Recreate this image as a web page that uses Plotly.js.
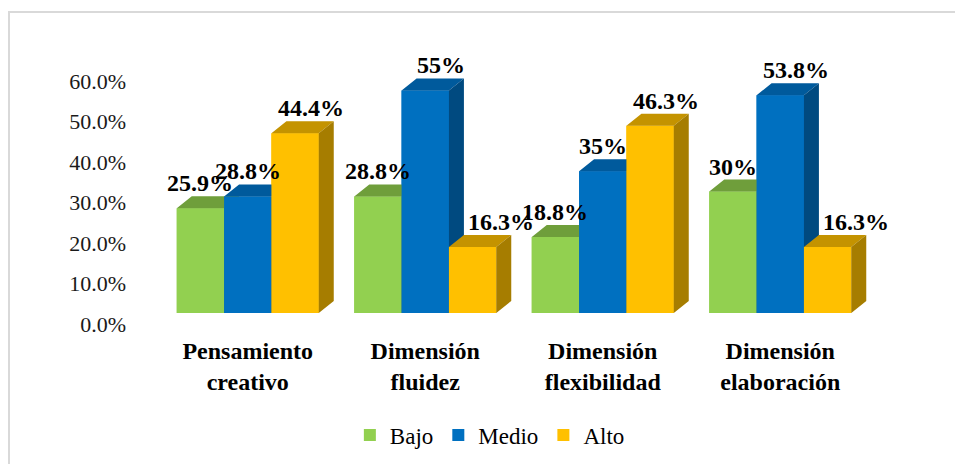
<!DOCTYPE html>
<html><head><meta charset="utf-8">
<script src="https://cdn.plot.ly/plotly-3.0.1.min.js"></script>
<style>
html,body{margin:0;padding:0;background:#fff;overflow:hidden}
#chart{width:955px;height:464px}
#frame{position:absolute;left:8px;top:11px;width:980px;height:480px;border-top:2px solid #d9d9d9;border-left:2px solid #d9d9d9;pointer-events:none}
</style></head><body>
<div id="chart"></div><div id="frame"></div>
<script>
// ---- data ----
const categories = ['Pensamiento<br>creativo', 'Dimensión<br>fluidez', 'Dimensión<br>flexibilidad', 'Dimensión<br>elaboración'];
const seriesNames = ['Bajo', 'Medio', 'Alto'];
const bajo  = [25.9, 28.8, 18.8, 30];
const medio = [28.8, 55, 35, 53.8];
const alto  = [44.4, 16.3, 46.3, 16.3];
const series = [bajo, medio, alto];

// ---- style / layout ----
const frontColors = ['#92D050', '#0070C0', '#FFC000'];
const topColors   = ['#6F9E3B', '#005A9C', '#C49300'];
const sideColors  = ['#5F8B33', '#004A80', '#A67D00'];
const W = 955, H = 464;
const M = {l: 159, r: 86, t: 54, b: 151, autoexpand: false};
const yMax = 64;
const groupWidth = 0.8;
const barW = groupWidth / series.length;
const plotW = W - M.l - M.r, plotH = H - M.t - M.b;
const pxPerX = plotW / categories.length, pxPerY = plotH / yMax;
const depthPx = {x: 15, y: 12};
const dX = depthPx.x / pxPerX, dY = depthPx.y / pxPerY;
const serif = 'Times New Roman';

const idx = categories.map((c, i) => i);
const traces = [];
// real bars (legend + base)
series.forEach((vals, s) => {
  traces.push({type: 'bar', x: idx, y: vals, name: seriesNames[s],
    marker: {color: frontColors[s], line: {width: 0}},
    hovertemplate: '%{y}%<extra>' + seriesNames[s] + '</extra>'});
});
// 3D faces drawn in painter's order
series.forEach((vals, s) => {
  const fx = [], fy = [], tx = [], ty = [], sx = [], sy = [];
  vals.forEach((v, i) => {
    const L = i - groupWidth / 2 + s * barW, R = L + barW;
    fx.push(L, R, R, L, L, null); fy.push(0, 0, v, v, 0, null);
    tx.push(L, R, R + dX, L + dX, L, null); ty.push(v, v, v + dY, v + dY, v, null);
    sx.push(R, R + dX, R + dX, R, R, null); sy.push(0, dY, v + dY, v, 0, null);
  });
  const base = {type: 'scatter', mode: 'none', fill: 'toself', showlegend: false, hoverinfo: 'skip'};
  traces.push(Object.assign({}, base, {x: fx, y: fy, fillcolor: frontColors[s]}));
  traces.push(Object.assign({}, base, {x: tx, y: ty, fillcolor: topColors[s]}));
  traces.push(Object.assign({}, base, {x: sx, y: sy, fillcolor: sideColors[s]}));
});

// data labels
const annotations = [];
series.forEach((vals, s) => {
  vals.forEach((v, i) => {
    const groupVals = series.map(a => a[i]);
    const tallest = v === Math.max(...groupVals);
    let shift = 0;
    if (tallest) shift = depthPx.x + 1;
    else if (s === series.length - 1) shift = 28;
    annotations.push({x: i - groupWidth / 2 + (s + 0.5) * barW, y: v + dY,
      xref: 'x', yref: 'y', text: v + '%', showarrow: false,
      xshift: shift, yshift: 13, yanchor: 'middle',
      font: {family: serif, size: 24, color: '#000', weight: 'bold'}});
  });
});

const layout = {
  width: W, height: H,
  margin: M,
  paper_bgcolor: '#fff', plot_bgcolor: 'rgba(0,0,0,0)',
  barmode: 'group', bargap: 1 - groupWidth, bargroupgap: 0,
  showlegend: true,
  legend: {orientation: 'h', x: 0.466, xanchor: 'center', y: -0.471, yanchor: 'middle',
    font: {family: serif, size: 23, color: '#000'}, traceorder: 'normal'},
  xaxis: {range: [-0.5, categories.length - 0.5], tickvals: idx, ticktext: categories,
    showgrid: false, zeroline: false, showline: false, ticks: '', automargin: false,
    ticklabelstandoff: 21,
    tickfont: {family: serif, size: 24, color: '#000', weight: 'bold'}},
  yaxis: {range: [0, yMax], dtick: 10, tick0: 0, tickformat: '.1f', ticksuffix: '%',
    showgrid: false, zeroline: false, showline: false, ticks: '', automargin: false,
    ticklabelshift: 11, ticklabelstandoff: 32,
    tickfont: {family: serif, size: 22, color: '#1a1a1a'}},
  annotations: annotations
};
Plotly.newPlot('chart', traces, layout, {displayModeBar: false});
</script>
</body></html>
